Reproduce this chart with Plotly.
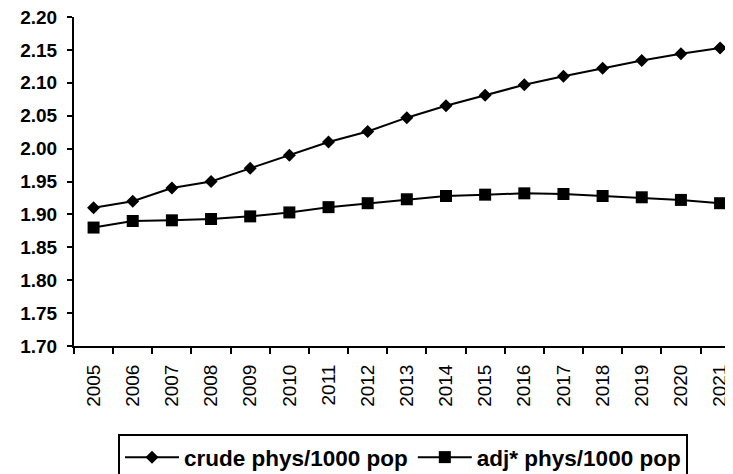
import plotly.graph_objects as go

years = [str(y) for y in range(2005, 2022)]
crude = [1.910, 1.920, 1.940, 1.950, 1.970, 1.990, 2.010, 2.026, 2.047, 2.065,
         2.081, 2.097, 2.110, 2.122, 2.134, 2.144, 2.153]
adj = [1.880, 1.890, 1.891, 1.893, 1.897, 1.903, 1.911, 1.917, 1.923, 1.928,
       1.930, 1.932, 1.931, 1.928, 1.926, 1.922, 1.917]
y_ticks = [1.70, 1.75, 1.80, 1.85, 1.90, 1.95, 2.00, 2.05, 2.10, 2.15, 2.20]

FONT = "Arial, Liberation Sans, sans-serif"
W, H = 725, 466  # page adds an 8px body margin

fig = go.Figure()
fig.add_trace(go.Scatter(
    x=years, y=crude, name="crude phys/1000 pop", mode="lines+markers",
    line=dict(color="black", width=2),
    marker=dict(symbol="diamond", size=10, color="black"),
))
fig.add_trace(go.Scatter(
    x=years, y=adj, name="adj* phys/1000 pop", mode="lines+markers",
    line=dict(color="black", width=2),
    marker=dict(symbol="square", size=12, color="black"),
))

fig.update_layout(
    width=W, height=H,
    margin=dict(l=66, r=0, t=9, b=128),
    paper_bgcolor="white", plot_bgcolor="white",
    font=dict(family=FONT, color="black"),
    showlegend=True,
    legend=dict(
        orientation="h", x=110 / W, xanchor="left", xref="container",
        y=1 - 426 / H, yanchor="top", yref="container",
        bordercolor="black", borderwidth=2, bgcolor="white",
        font=dict(family=FONT, size=22.5, color="black", weight="bold"),
        itemwidth=54, tracegroupgap=0,
    ),
    xaxis=dict(
        type="category", range=[-0.5, 16.33], automargin=False,
        showline=True, linecolor="black", linewidth=2,
        ticks="outside", ticklen=6, tickwidth=2, tickcolor="black",
        tickson="boundaries", tickangle=-90, ticklabelstandoff=9,
        tickfont=dict(family=FONT, size=19, color="black"),
        showgrid=False, zeroline=False,
    ),
    yaxis=dict(
        range=[1.70, 2.20], tickvals=y_ticks, automargin=False,
        ticktext=[f"{v:.2f}" for v in y_ticks],
        ticklabeloverflow="allow",
        showline=True, linecolor="black", linewidth=2,
        ticks="outside", ticklen=5, tickwidth=2, tickcolor="black",
        ticklabelstandoff=6,
        tickfont=dict(family=FONT, size=19, color="black", weight="bold"),
        showgrid=False, zeroline=False,
    ),
)

fig.write_html("out.html")
